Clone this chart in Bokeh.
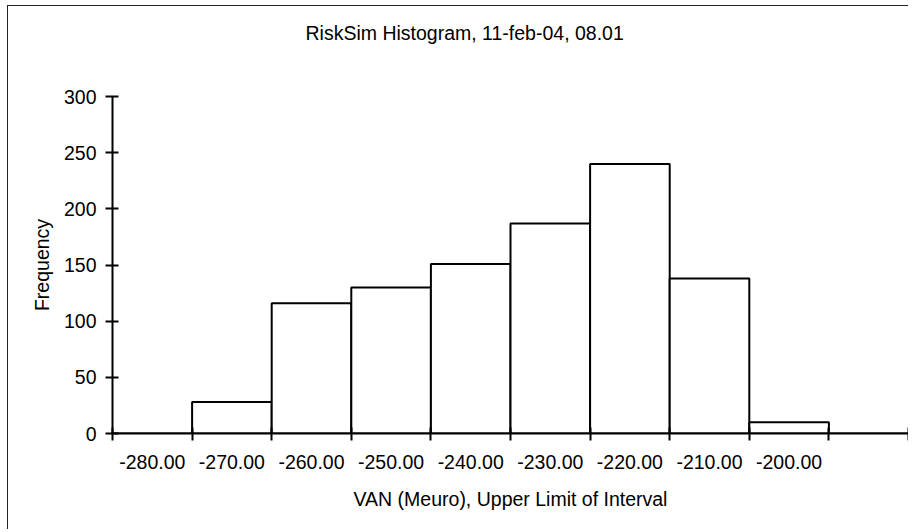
from bokeh.plotting import figure
from bokeh.models import Range1d, FixedTicker, ColumnDataSource, Title
from bokeh.embed import file_html
from bokeh.resources import INLINE

# Data
bin_labels = ["-280.00", "-270.00", "-260.00", "-250.00", "-240.00",
              "-230.00", "-220.00", "-210.00", "-200.00", ""]
frequency = [0, 28, 116, 130, 151, 187, 240, 138, 10, 0]
y_ticks = [0, 50, 100, 150, 200, 250, 300]

title_text = "RiskSim Histogram, 11-feb-04, 08.01"
x_title = "VAN (Meuro), Upper Limit of Interval"
y_title = "Frequency"

FONT = "Liberation Sans"
FS = "19.5px"

n = len(bin_labels)
centers = [i + 0.5 for i in range(n)]
edges = [float(i) for i in range(n + 1)]

src = ColumnDataSource(dict(x=centers, top=frequency))

p = figure(width=901, height=524, output_backend="svg", toolbar_location=None,
           x_range=Range1d(0, n), y_range=Range1d(0, 300),
           min_border_left=104, min_border_right=1,
           min_border_top=90, min_border_bottom=97)
p.styles = {"border-left": "1px solid #222", "border-top": "1px solid #222",
            "margin-left": "7px", "margin-top": "5px"}

p.background_fill_color = "white"
p.border_fill_color = "white"
p.outline_line_color = None
p.grid.grid_line_color = None

p.vbar(x="x", top="top", width=1.0, bottom=0, source=src,
       fill_color="white", line_color="black", line_width=2)

# spacer between plot area and chart title, then the title itself
spacer = Title(text=" ", text_font=FONT, text_font_size=FS, standoff=19)
p.add_layout(spacer, "above")
main_title = Title(text=title_text, text_font=FONT, text_font_size=FS,
                   text_font_style="normal", text_color="black",
                   align="left", offset=193, standoff=20)
p.add_layout(main_title, "above")

# X axis
xa = p.xaxis[0]
xa.ticker = FixedTicker(ticks=centers, minor_ticks=edges)
xa.major_label_overrides = {c: lab for c, lab in zip(centers, bin_labels)}
xa.major_tick_line_color = None
xa.minor_tick_line_color = "black"
xa.minor_tick_line_width = 2
xa.minor_tick_in = 6
xa.minor_tick_out = 7
xa.axis_line_color = "black"
xa.axis_line_width = 2
xa.major_label_text_font = FONT
xa.major_label_text_font_size = FS
xa.major_label_text_color = "black"
xa.major_label_standoff = 14
xa.axis_label = x_title
xa.axis_label_text_font = FONT
xa.axis_label_text_font_size = FS
xa.axis_label_text_font_style = "normal"
xa.axis_label_text_color = "black"
xa.axis_label_standoff = 16

# Y axis
ya = p.yaxis[0]
ya.ticker = FixedTicker(ticks=y_ticks)
ya.minor_tick_line_color = None
ya.major_tick_line_color = "black"
ya.major_tick_line_width = 2
ya.major_tick_in = 6
ya.major_tick_out = 7
ya.axis_line_color = "black"
ya.axis_line_width = 2
ya.major_label_text_font = FONT
ya.major_label_text_font_size = FS
ya.major_label_text_color = "black"
ya.major_label_standoff = 9
ya.axis_label = y_title
ya.axis_label_text_font = FONT
ya.axis_label_text_font_size = FS
ya.axis_label_text_font_style = "normal"
ya.axis_label_text_color = "black"
ya.axis_label_standoff = 8

open("out.html", "w").write(file_html(p, INLINE))
